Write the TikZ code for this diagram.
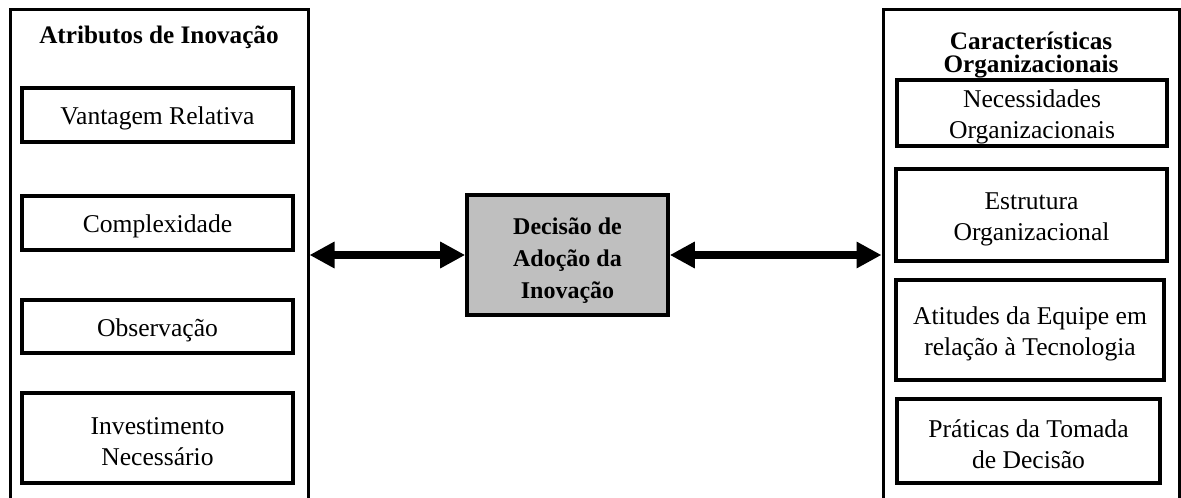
\documentclass[tikz,border=0pt]{standalone}
\usepackage{fontspec}
\setmainfont{Liberation Serif}
\usetikzlibrary{arrows.meta}
\newcommand\topstrut[1]{\rule{0pt}{#1}}
\begin{document}
\begin{tikzpicture}[x=0.5pt,y=-0.5pt,
 innerbox/.style={draw, line width=2pt, align=center, inner sep=0pt, font=\fontsize{12.8pt}{15.5pt}\selectfont},
 outerbox/.style={draw, line width=1.5pt, inner sep=0pt},
 ttl/.style={align=center, inner sep=0pt, font=\bfseries\fontsize{12.6pt}{11.5pt}\selectfont},
 decbox/.style={draw, line width=1.8pt, fill=black!25, align=center, inner sep=0pt, font=\bfseries\fontsize{12pt}{16.2pt}\selectfont},
 dbl/.style={{Triangle[length=12.5pt,width=12.5pt]}-{Triangle[length=12.5pt,width=12.5pt]}, line width=4pt}
]
\useasboundingbox (0,0) rectangle (1181,497);
% outer boxes (open at the bottom, cropped by the page)
\node[outerbox, minimum width=149pt, minimum height=250pt] (L) at (159,260) {};
\node[outerbox, minimum width=148pt, minimum height=250pt] (R) at (1031,260) {};
% titles
\node[ttl] (Lt) at (159,37) {Atributos de Inovação};
\node[ttl] (Rt) at (1031,55) {Características\\Organizacionais};
% left inner boxes
\node[innerbox, minimum width=135.5pt, minimum height=27pt] (a1) at (157.5,115) {\topstrut{12.5pt}Vantagem Relativa};
\node[innerbox, minimum width=135.5pt, minimum height=27pt] (a2) at (157.5,223) {\topstrut{12.5pt}Complexidade};
\node[innerbox, minimum width=135.5pt, minimum height=26.5pt] (a3) at (157.5,326.5) {\topstrut{12.5pt}Observação};
\node[innerbox, minimum width=135.5pt, minimum height=45pt] (a4) at (157.5,438) {\topstrut{12.5pt}Investimento\\Necessário};
% right inner boxes
\node[innerbox, minimum width=135pt, minimum height=33pt] (b1) at (1032,113) {\topstrut{12.5pt}Necessidades\\Organizacionais};
\node[innerbox, minimum width=135.5pt, minimum height=46pt] (b2) at (1031.5,215) {\topstrut{12.5pt}Estrutura\\Organizacional};
\node[innerbox, minimum width=134pt, minimum height=50pt] (b3) at (1030,330) {\topstrut{12.5pt}Atitudes da Equipe em\\relação à Tecnologia};
\node[innerbox, minimum width=131.5pt, minimum height=42pt] (b4) at (1028.5,441) {\topstrut{12.5pt}Práticas da Tomada\\de Decisão};
% central box
\node[decbox, minimum width=100.5pt, minimum height=60pt] (dec) at (567.5,255) {\topstrut{14pt}Decisão de\\Adoção da\\Inovação};
% arrows
\draw[dbl] (L.east |- dec.west) -- (dec.west);
\draw[dbl] (dec.east) -- (R.west |- dec.east);
\end{tikzpicture}
\end{document}
